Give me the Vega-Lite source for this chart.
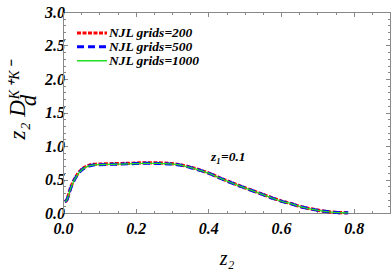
{
  "$schema": "https://vega.github.io/schema/vega-lite/v6.json",
  "width": 327,
  "height": 201,
  "autosize": {"type": "none"},
  "padding": {"left": 63, "top": 12, "right": 2, "bottom": 57},
  "background": "white",
  "config": {
    "view": {"stroke": "#888", "strokeWidth": 1},
    "axis": {
      "grid": false,
      "domainColor": "#888",
      "tickColor": "#888",
      "labelFont": "Times New Roman",
      "labelFontWeight": "bold",
      "labelFontStyle": "italic",
      "labelFontSize": 16,
      "labelColor": "black",
      "labelFlush": false,
      "labelOverlap": false,
      "labelBound": false,
      "titleFont": "Times New Roman",
      "titleFontStyle": "italic",
      "titleFontWeight": "normal",
      "titleColor": "black"
    },
    "legend": {
      "orient": "none",
      "legendX": 22,
      "legendY": 14,
      "padding": 0,
      "labelFont": "Times New Roman",
      "labelFontSize": 13.5,
      "labelFontWeight": "bold",
      "labelFontStyle": "italic",
      "labelColor": "black",
      "labelOffset": 10,
      "symbolType": "M-3,0H3",
      "symbolSize": 100,
      "rowPadding": -7
    }
  },
  "datasets": {
    "curves": [
      {"series": "NJL grids=200", "z2": 0.005, "D": 0.17},
      {"series": "NJL grids=200", "z2": 0.01, "D": 0.19},
      {"series": "NJL grids=200", "z2": 0.015, "D": 0.27},
      {"series": "NJL grids=200", "z2": 0.02, "D": 0.36},
      {"series": "NJL grids=200", "z2": 0.025, "D": 0.43},
      {"series": "NJL grids=200", "z2": 0.033, "D": 0.52},
      {"series": "NJL grids=200", "z2": 0.04, "D": 0.58},
      {"series": "NJL grids=200", "z2": 0.05, "D": 0.645},
      {"series": "NJL grids=200", "z2": 0.06, "D": 0.685},
      {"series": "NJL grids=200", "z2": 0.07, "D": 0.71},
      {"series": "NJL grids=200", "z2": 0.08, "D": 0.723},
      {"series": "NJL grids=200", "z2": 0.09, "D": 0.728},
      {"series": "NJL grids=200", "z2": 0.1, "D": 0.73},
      {"series": "NJL grids=200", "z2": 0.13, "D": 0.735},
      {"series": "NJL grids=200", "z2": 0.16, "D": 0.738},
      {"series": "NJL grids=200", "z2": 0.2, "D": 0.745},
      {"series": "NJL grids=200", "z2": 0.23, "D": 0.75},
      {"series": "NJL grids=200", "z2": 0.26, "D": 0.748},
      {"series": "NJL grids=200", "z2": 0.28, "D": 0.744},
      {"series": "NJL grids=200", "z2": 0.3, "D": 0.736},
      {"series": "NJL grids=200", "z2": 0.32, "D": 0.723},
      {"series": "NJL grids=200", "z2": 0.35, "D": 0.685},
      {"series": "NJL grids=200", "z2": 0.38, "D": 0.636},
      {"series": "NJL grids=200", "z2": 0.4, "D": 0.598},
      {"series": "NJL grids=200", "z2": 0.43, "D": 0.528},
      {"series": "NJL grids=200", "z2": 0.45, "D": 0.483},
      {"series": "NJL grids=200", "z2": 0.48, "D": 0.418},
      {"series": "NJL grids=200", "z2": 0.5, "D": 0.378},
      {"series": "NJL grids=200", "z2": 0.53, "D": 0.318},
      {"series": "NJL grids=200", "z2": 0.55, "D": 0.278},
      {"series": "NJL grids=200", "z2": 0.58, "D": 0.218},
      {"series": "NJL grids=200", "z2": 0.6, "D": 0.18},
      {"series": "NJL grids=200", "z2": 0.63, "D": 0.137},
      {"series": "NJL grids=200", "z2": 0.65, "D": 0.102},
      {"series": "NJL grids=200", "z2": 0.68, "D": 0.064},
      {"series": "NJL grids=200", "z2": 0.7, "D": 0.044},
      {"series": "NJL grids=200", "z2": 0.72, "D": 0.026},
      {"series": "NJL grids=200", "z2": 0.74, "D": 0.013},
      {"series": "NJL grids=200", "z2": 0.76, "D": 0.006},
      {"series": "NJL grids=200", "z2": 0.785, "D": 0.003},
      {"series": "NJL grids=500", "z2": 0.005, "D": 0.17},
      {"series": "NJL grids=500", "z2": 0.01, "D": 0.19},
      {"series": "NJL grids=500", "z2": 0.015, "D": 0.26},
      {"series": "NJL grids=500", "z2": 0.02, "D": 0.35},
      {"series": "NJL grids=500", "z2": 0.025, "D": 0.42},
      {"series": "NJL grids=500", "z2": 0.033, "D": 0.51},
      {"series": "NJL grids=500", "z2": 0.04, "D": 0.57},
      {"series": "NJL grids=500", "z2": 0.05, "D": 0.635},
      {"series": "NJL grids=500", "z2": 0.06, "D": 0.675},
      {"series": "NJL grids=500", "z2": 0.07, "D": 0.7},
      {"series": "NJL grids=500", "z2": 0.08, "D": 0.713},
      {"series": "NJL grids=500", "z2": 0.09, "D": 0.72},
      {"series": "NJL grids=500", "z2": 0.1, "D": 0.722},
      {"series": "NJL grids=500", "z2": 0.13, "D": 0.726},
      {"series": "NJL grids=500", "z2": 0.16, "D": 0.73},
      {"series": "NJL grids=500", "z2": 0.2, "D": 0.737},
      {"series": "NJL grids=500", "z2": 0.23, "D": 0.742},
      {"series": "NJL grids=500", "z2": 0.26, "D": 0.74},
      {"series": "NJL grids=500", "z2": 0.28, "D": 0.737},
      {"series": "NJL grids=500", "z2": 0.3, "D": 0.73},
      {"series": "NJL grids=500", "z2": 0.32, "D": 0.718},
      {"series": "NJL grids=500", "z2": 0.35, "D": 0.68},
      {"series": "NJL grids=500", "z2": 0.38, "D": 0.632},
      {"series": "NJL grids=500", "z2": 0.4, "D": 0.595},
      {"series": "NJL grids=500", "z2": 0.43, "D": 0.525},
      {"series": "NJL grids=500", "z2": 0.45, "D": 0.48},
      {"series": "NJL grids=500", "z2": 0.48, "D": 0.415},
      {"series": "NJL grids=500", "z2": 0.5, "D": 0.375},
      {"series": "NJL grids=500", "z2": 0.53, "D": 0.315},
      {"series": "NJL grids=500", "z2": 0.55, "D": 0.275},
      {"series": "NJL grids=500", "z2": 0.58, "D": 0.215},
      {"series": "NJL grids=500", "z2": 0.6, "D": 0.178},
      {"series": "NJL grids=500", "z2": 0.63, "D": 0.135},
      {"series": "NJL grids=500", "z2": 0.65, "D": 0.1},
      {"series": "NJL grids=500", "z2": 0.68, "D": 0.062},
      {"series": "NJL grids=500", "z2": 0.7, "D": 0.042},
      {"series": "NJL grids=500", "z2": 0.72, "D": 0.025},
      {"series": "NJL grids=500", "z2": 0.74, "D": 0.012},
      {"series": "NJL grids=500", "z2": 0.76, "D": 0.005},
      {"series": "NJL grids=500", "z2": 0.785, "D": 0.003},
      {"series": "NJL grids=1000", "z2": 0.005, "D": 0.17},
      {"series": "NJL grids=1000", "z2": 0.01, "D": 0.19},
      {"series": "NJL grids=1000", "z2": 0.015, "D": 0.26},
      {"series": "NJL grids=1000", "z2": 0.02, "D": 0.35},
      {"series": "NJL grids=1000", "z2": 0.025, "D": 0.42},
      {"series": "NJL grids=1000", "z2": 0.033, "D": 0.51},
      {"series": "NJL grids=1000", "z2": 0.04, "D": 0.57},
      {"series": "NJL grids=1000", "z2": 0.05, "D": 0.635},
      {"series": "NJL grids=1000", "z2": 0.06, "D": 0.675},
      {"series": "NJL grids=1000", "z2": 0.07, "D": 0.7},
      {"series": "NJL grids=1000", "z2": 0.08, "D": 0.713},
      {"series": "NJL grids=1000", "z2": 0.09, "D": 0.72},
      {"series": "NJL grids=1000", "z2": 0.1, "D": 0.722},
      {"series": "NJL grids=1000", "z2": 0.13, "D": 0.726},
      {"series": "NJL grids=1000", "z2": 0.16, "D": 0.73},
      {"series": "NJL grids=1000", "z2": 0.2, "D": 0.737},
      {"series": "NJL grids=1000", "z2": 0.23, "D": 0.742},
      {"series": "NJL grids=1000", "z2": 0.26, "D": 0.74},
      {"series": "NJL grids=1000", "z2": 0.28, "D": 0.737},
      {"series": "NJL grids=1000", "z2": 0.3, "D": 0.73},
      {"series": "NJL grids=1000", "z2": 0.32, "D": 0.718},
      {"series": "NJL grids=1000", "z2": 0.35, "D": 0.68},
      {"series": "NJL grids=1000", "z2": 0.38, "D": 0.632},
      {"series": "NJL grids=1000", "z2": 0.4, "D": 0.595},
      {"series": "NJL grids=1000", "z2": 0.43, "D": 0.525},
      {"series": "NJL grids=1000", "z2": 0.45, "D": 0.48},
      {"series": "NJL grids=1000", "z2": 0.48, "D": 0.415},
      {"series": "NJL grids=1000", "z2": 0.5, "D": 0.375},
      {"series": "NJL grids=1000", "z2": 0.53, "D": 0.315},
      {"series": "NJL grids=1000", "z2": 0.55, "D": 0.275},
      {"series": "NJL grids=1000", "z2": 0.58, "D": 0.215},
      {"series": "NJL grids=1000", "z2": 0.6, "D": 0.178},
      {"series": "NJL grids=1000", "z2": 0.63, "D": 0.135},
      {"series": "NJL grids=1000", "z2": 0.65, "D": 0.1},
      {"series": "NJL grids=1000", "z2": 0.68, "D": 0.062},
      {"series": "NJL grids=1000", "z2": 0.7, "D": 0.042},
      {"series": "NJL grids=1000", "z2": 0.72, "D": 0.025},
      {"series": "NJL grids=1000", "z2": 0.74, "D": 0.012},
      {"series": "NJL grids=1000", "z2": 0.76, "D": 0.005},
      {"series": "NJL grids=1000", "z2": 0.785, "D": 0.003}
    ],
    "notes": [
      {"x": 0.455, "y": 0.84, "label": "z₁=0.1"}
    ]
  },
  "layer": [
    {
      "data": {"name": "curves"},
      "mark": {"type": "line", "interpolate": "monotone"},
      "encoding": {
        "x": {
          "field": "z2", "type": "quantitative",
          "scale": {"domain": [0, 0.9], "nice": false, "zero": false},
          "axis": {
            "orient": "bottom",
            "values": [0, 0.05, 0.1, 0.15, 0.2, 0.25, 0.3, 0.35, 0.4, 0.45, 0.5, 0.55, 0.6, 0.65, 0.7, 0.75, 0.8, 0.85, 0.9],
            "labelExpr": "indexof([0, 0.2, 0.4, 0.6, 0.8], datum.value) >= 0 ? format(datum.value, '.1f') : ''",
            "tickSize": {"condition": {"test": "indexof([0, 0.2, 0.4, 0.6, 0.8], datum.value) >= 0", "value": -4.5}, "value": -2.5},
            "labelPadding": 12,
            "title": "z₂",
            "titleFontSize": 20,
            "titlePadding": 10
          }
        },
        "y": {
          "field": "D", "type": "quantitative",
          "scale": {"domain": [0, 3], "nice": false, "zero": false},
          "axis": {
            "orient": "left",
            "values": [0, 0.1, 0.2, 0.3, 0.4, 0.5, 0.6, 0.7, 0.8, 0.9, 1, 1.1, 1.2, 1.3, 1.4, 1.5, 1.6, 1.7, 1.8, 1.9, 2, 2.1, 2.2, 2.3, 2.4, 2.5, 2.6, 2.7, 2.8, 2.9, 3],
            "labelExpr": "indexof([0, 0.5, 1, 1.5, 2, 2.5, 3], datum.value) >= 0 ? format(datum.value, '.1f') : ''",
            "tickSize": {"condition": {"test": "indexof([0, 0.5, 1, 1.5, 2, 2.5, 3], datum.value) >= 0", "value": -4.5}, "value": -2.5},
            "labelPadding": 3,
            "title": ["z₂ Dᴷ⁺ᴷ⁻", "\u00a0\u00a0\u00a0\u00a0d"],
            "titleFontSize": 23,
            "titleLineHeight": 11,
            "titlePadding": 4,
            "titleY": 88
          }
        },
        "color": {
          "field": "series", "type": "nominal",
          "scale": {"domain": ["NJL grids=200", "NJL grids=500", "NJL grids=1000"], "range": ["#ff0000", "#0000ff", "#22dd22"]},
          "legend": {"title": null}
        },
        "strokeDash": {
          "field": "series", "type": "nominal",
          "scale": {"domain": ["NJL grids=200", "NJL grids=500", "NJL grids=1000"], "range": [[4, 1.5], [7, 4], [1, 0]]},
          "legend": {"title": null}
        },
        "strokeWidth": {
          "field": "series", "type": "ordinal",
          "scale": {"type": "ordinal", "domain": ["NJL grids=200", "NJL grids=500", "NJL grids=1000"], "range": [3.2, 3, 1.3]},
          "legend": {"title": null}
        }
      }
    },
    {
      "data": {"name": "notes"},
      "mark": {"type": "text", "font": "Times New Roman", "fontSize": 13.5, "fontWeight": "bold", "fontStyle": "italic", "color": "black", "align": "center", "baseline": "middle"},
      "encoding": {
        "x": {
          "field": "x", "type": "quantitative",
          "axis": {
            "orient": "top",
            "values": [0, 0.05, 0.1, 0.15, 0.2, 0.25, 0.3, 0.35, 0.4, 0.45, 0.5, 0.55, 0.6, 0.65, 0.7, 0.75, 0.8, 0.85, 0.9],
            "labels": false,
            "title": null,
            "tickSize": {"condition": {"test": "indexof([0, 0.2, 0.4, 0.6, 0.8], datum.value) >= 0", "value": -4.5}, "value": -2.5}
          }
        },
        "y": {
          "field": "y", "type": "quantitative",
          "axis": {
            "orient": "right",
            "values": [0, 0.1, 0.2, 0.3, 0.4, 0.5, 0.6, 0.7, 0.8, 0.9, 1, 1.1, 1.2, 1.3, 1.4, 1.5, 1.6, 1.7, 1.8, 1.9, 2, 2.1, 2.2, 2.3, 2.4, 2.5, 2.6, 2.7, 2.8, 2.9, 3],
            "labels": false,
            "title": null,
            "tickSize": {"condition": {"test": "indexof([0, 0.5, 1, 1.5, 2, 2.5, 3], datum.value) >= 0", "value": -4.5}, "value": -2.5}
          }
        },
        "text": {"field": "label", "type": "nominal"}
      }
    }
  ],
  "resolve": {"axis": {"x": "independent", "y": "independent"}}
}
